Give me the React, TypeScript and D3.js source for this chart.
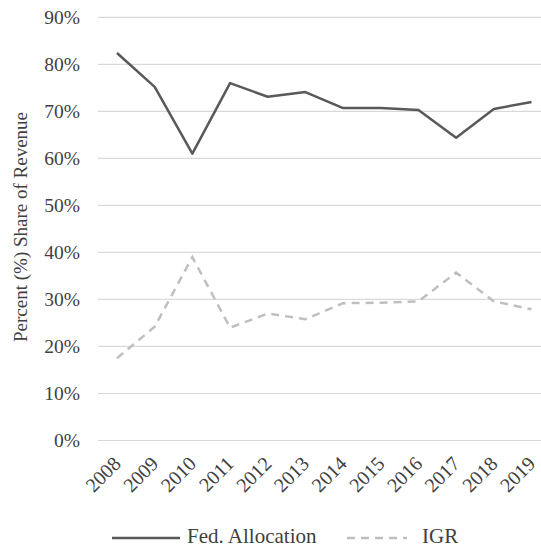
import React from "react";
import * as d3 from "d3";

const years = ["2008","2009","2010","2011","2012","2013","2014","2015","2016","2017","2018","2019"];
const fedAllocation = [82.4, 75.2, 61.0, 76.0, 73.1, 74.1, 70.7, 70.7, 70.3, 64.4, 70.5, 72.0];
const igr = [17.5, 24.2, 39.0, 24.0, 27.0, 25.8, 29.2, 29.3, 29.6, 35.7, 29.6, 27.9];
const yTicks = [0, 10, 20, 30, 40, 50, 60, 70, 80, 90];

const W = 541, H = 548;
const FONT = "Liberation Serif";

export default function App() {
  const x = d3.scalePoint<string>().domain(years).range([117, 531.5]);
  const y = d3.scaleLinear().domain([0, 90]).range([440.5, 17.3]);
  const line = d3.line<number>().x((_, i) => x(years[i])!).y((d) => y(d));
  const textColor = "#404040";
  const ts = { fontFamily: FONT, fontSize: 19.5, fill: textColor };
  const xs = { fontFamily: FONT, fontSize: 20, fill: textColor };
  const ls = { fontFamily: FONT, fontSize: 21, fill: textColor };
  const titleS = { fontFamily: FONT, fontSize: 19, fill: textColor };
  return (
    <svg width={W} height={H} style={{ position: "absolute", left: 0, top: 0 }}>
      <rect width={W} height={H} fill="#fff" />
      {yTicks.map((t) => (
        <g key={t}>
          <line x1={98} x2={W} y1={y(t)} y2={y(t)} stroke="#d9d9d9" strokeWidth={1.2} />
          <text x={80} y={y(t)} dy="0.34em" textAnchor="end" style={ts}>
            {t}%
          </text>
        </g>
      ))}
      <text transform={`translate(27,${227}) rotate(-90)`} textAnchor="middle" style={titleS}>
        Percent (%) Share of Revenue
      </text>
      {years.map((yr) => (
        <text key={yr} transform={`translate(${x(yr)! + 5},${465}) rotate(-45)`} textAnchor="end" style={xs}>
          {yr}
        </text>
      ))}
      <path d={line(igr)!} fill="none" stroke="#bfbfbf" strokeWidth={2.5} strokeDasharray="8,6" />
      <path d={line(fedAllocation)!} fill="none" stroke="#595959" strokeWidth={2.5} strokeLinejoin="round" />
      <line x1={112} x2={180} y1={538} y2={538} stroke="#595959" strokeWidth={2.5} />
      <text x={187} y={543} style={ls}>Fed. Allocation</text>
      <line x1={347} x2={407} y1={538} y2={538} stroke="#bfbfbf" strokeWidth={2.5} strokeDasharray="8,6" />
      <text x={422} y={543} style={ls}>IGR</text>
    </svg>
  );
}
